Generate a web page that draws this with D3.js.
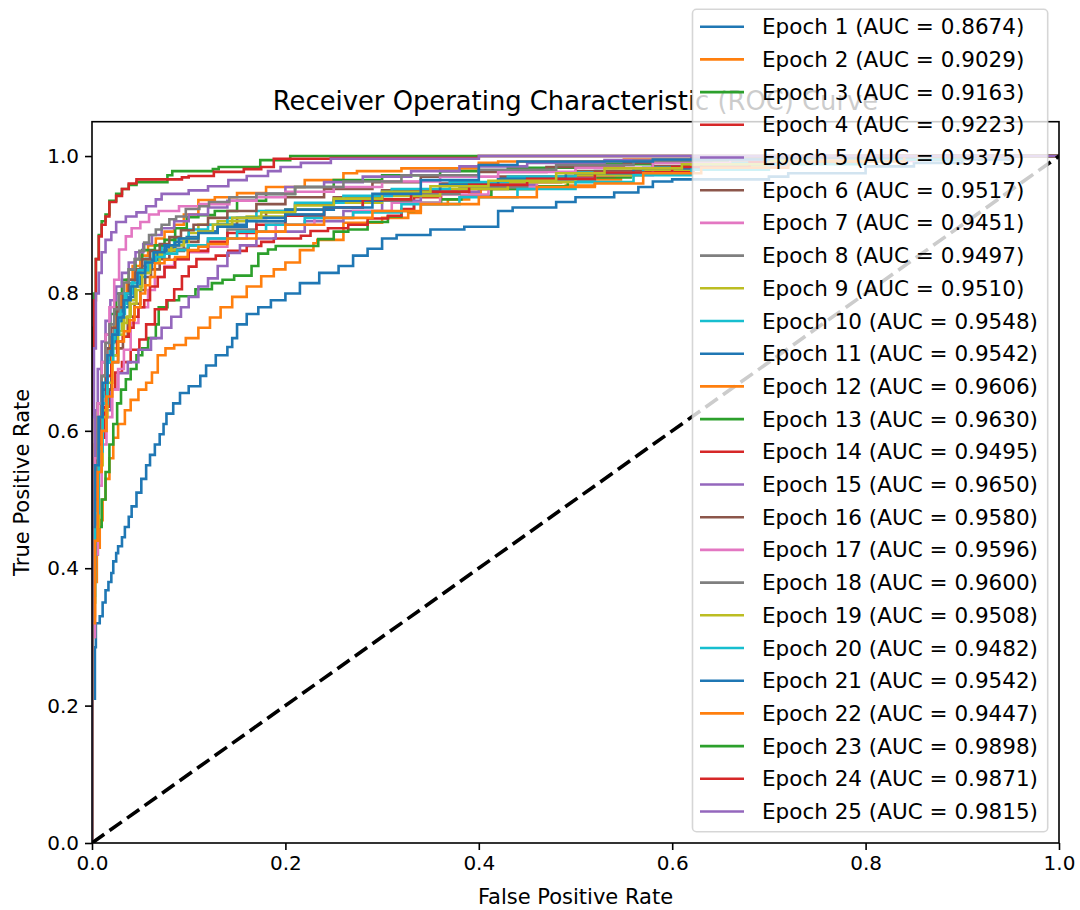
<!DOCTYPE html>
<html lang="en">
<head>
  <meta charset="UTF-8">
  <title>ROC curves per epoch</title>
  <script src="https://d3js.org/d3.v7.min.js"></script>
  <style>
    html, body { margin: 0; padding: 0; background: #fff; }
    #chart { display: block; }
    text { font-family: "DejaVu Sans", sans-serif; fill: #000; }
  </style>
</head>
<body>
  <svg id="chart" width="1080" height="910"></svg>

  <script>
    // ---- data ----
    const epochs = d3.range(1, 26).map(d => `Epoch ${d}`);
    const aucValues = [0.8674, 0.9029, 0.9163, 0.9223, 0.9375, 0.9517, 0.9451, 0.9497, 0.9510, 0.9548,
                       0.9542, 0.9606, 0.9630, 0.9495, 0.9650, 0.9580, 0.9596, 0.9600, 0.9508, 0.9482,
                       0.9542, 0.9447, 0.9898, 0.9871, 0.9815];
    const xTicks = [0, 0.2, 0.4, 0.6, 0.8, 1.0];
    const yTicks = [0, 0.2, 0.4, 0.6, 0.8, 1.0];

    // [false positive rate, true positive rate]
    const roc01 = [[0,0],[0,0.15],[0.003,0.21],[0.004,0.285],[0.008,0.32],[0.011,0.33],[0.014,0.35],[0.017,0.368],[0.02,0.38],[0.022,0.393],[0.025,0.41],[0.027,0.422],[0.031,0.432],[0.034,0.445],[0.038,0.46],[0.041,0.475],[0.046,0.49],[0.051,0.51],[0.056,0.53],[0.06,0.55],[0.065,0.565],[0.07,0.58],[0.074,0.595],[0.077,0.61],[0.084,0.625],[0.091,0.64],[0.1,0.655],[0.112,0.665],[0.118,0.68],[0.128,0.695],[0.14,0.71],[0.145,0.722],[0.15,0.735],[0.16,0.755],[0.172,0.77],[0.185,0.78],[0.2,0.79],[0.215,0.8],[0.235,0.815],[0.255,0.83],[0.27,0.84],[0.285,0.855],[0.3,0.865],[0.315,0.88],[0.35,0.885],[0.385,0.893],[0.42,0.897],[0.435,0.92],[0.48,0.925],[0.5,0.933],[0.54,0.94],[0.565,0.947],[0.58,0.955],[0.6,0.963],[0.7,0.966],[0.72,0.97],[0.8,0.975],[0.85,0.985],[0.9,0.99],[0.95,0.995],[1,1]];
    const roc02 = [[0,0],[0,0.2],[0.003,0.3],[0.005,0.38],[0.008,0.43],[0.011,0.47],[0.014,0.5],[0.018,0.53],[0.022,0.56],[0.027,0.59],[0.034,0.61],[0.04,0.63],[0.048,0.645],[0.056,0.66],[0.062,0.67],[0.068,0.685],[0.076,0.71],[0.085,0.72],[0.097,0.725],[0.11,0.735],[0.122,0.75],[0.133,0.765],[0.145,0.78],[0.16,0.795],[0.175,0.81],[0.188,0.825],[0.2,0.835],[0.215,0.845],[0.229,0.863],[0.233,0.873],[0.26,0.878],[0.3,0.903],[0.327,0.91],[0.34,0.917],[0.368,0.93],[0.39,0.937],[0.402,0.945],[0.457,0.952],[0.49,0.955],[0.52,0.957],[0.547,0.966],[0.56,0.971],[0.62,0.975],[0.7,0.985],[0.8,0.99],[0.9,0.995],[1,1]];
    const roc03 = [[0,0],[0,0.25],[0.003,0.35],[0.006,0.42],[0.01,0.46],[0.014,0.5],[0.018,0.54],[0.022,0.58],[0.026,0.61],[0.03,0.64],[0.035,0.66],[0.04,0.675],[0.046,0.69],[0.052,0.71],[0.058,0.72],[0.066,0.735],[0.069,0.755],[0.078,0.78],[0.09,0.79],[0.107,0.796],[0.124,0.806],[0.135,0.815],[0.147,0.82],[0.165,0.826],[0.172,0.84],[0.182,0.858],[0.19,0.864],[0.234,0.869],[0.25,0.879],[0.265,0.89],[0.285,0.893],[0.306,0.904],[0.32,0.912],[0.333,0.92],[0.361,0.932],[0.382,0.937],[0.413,0.942],[0.457,0.952],[0.492,0.956],[0.516,0.963],[0.557,0.969],[0.578,0.974],[0.62,0.98],[0.7,0.985],[0.8,0.99],[0.9,0.996],[1,1]];
    const roc04 = [[0,0],[0,0.3],[0.003,0.4],[0.006,0.48],[0.009,0.54],[0.013,0.59],[0.018,0.635],[0.024,0.66],[0.031,0.685],[0.04,0.7],[0.049,0.718],[0.056,0.733],[0.065,0.755],[0.077,0.777],[0.085,0.79],[0.093,0.806],[0.1,0.825],[0.108,0.839],[0.128,0.85],[0.141,0.855],[0.16,0.862],[0.175,0.869],[0.188,0.875],[0.216,0.88],[0.226,0.884],[0.244,0.891],[0.265,0.895],[0.285,0.9],[0.306,0.909],[0.32,0.913],[0.333,0.923],[0.361,0.94],[0.389,0.949],[0.413,0.952],[0.485,0.962],[0.506,0.969],[0.54,0.971],[0.581,0.977],[0.622,0.978],[0.7,0.985],[0.8,0.99],[0.9,0.995],[1,1]];
    const roc05 = [[0,0],[0,0.3],[0.003,0.4],[0.006,0.48],[0.01,0.55],[0.015,0.6],[0.02,0.63],[0.027,0.66],[0.037,0.684],[0.048,0.7],[0.061,0.718],[0.072,0.735],[0.082,0.75],[0.092,0.766],[0.1,0.78],[0.11,0.795],[0.12,0.81],[0.13,0.822],[0.14,0.84],[0.153,0.859],[0.17,0.87],[0.19,0.88],[0.22,0.89],[0.26,0.905],[0.3,0.92],[0.34,0.935],[0.4,0.948],[0.46,0.958],[0.52,0.968],[0.58,0.978],[0.64,0.985],[0.75,0.99],[0.85,0.995],[1,1]];
    const roc06 = [[0,0],[0,0.2],[0.003,0.38],[0.006,0.5],[0.01,0.58],[0.015,0.63],[0.02,0.66],[0.027,0.7],[0.032,0.72],[0.037,0.737],[0.044,0.766],[0.05,0.785],[0.055,0.805],[0.061,0.824],[0.07,0.835],[0.08,0.85],[0.095,0.862],[0.11,0.875],[0.13,0.89],[0.15,0.9],[0.18,0.91],[0.21,0.92],[0.25,0.93],[0.3,0.94],[0.36,0.95],[0.42,0.96],[0.5,0.97],[0.58,0.978],[0.64,0.985],[0.75,0.99],[0.85,0.995],[1,1]];
    const roc07 = [[0,0],[0,0.15],[0.003,0.3],[0.006,0.42],[0.01,0.52],[0.015,0.58],[0.021,0.62],[0.027,0.66],[0.033,0.69],[0.04,0.718],[0.048,0.757],[0.058,0.78],[0.065,0.805],[0.075,0.824],[0.085,0.84],[0.1,0.85],[0.12,0.86],[0.14,0.868],[0.16,0.88],[0.19,0.89],[0.23,0.9],[0.27,0.91],[0.31,0.92],[0.36,0.932],[0.41,0.944],[0.46,0.955],[0.52,0.964],[0.58,0.972],[0.63,0.98],[0.72,0.986],[0.85,0.993],[1,1]];
    const roc08 = [[0,0],[0,0.25],[0.003,0.4],[0.006,0.5],[0.01,0.57],[0.014,0.64],[0.018,0.7],[0.023,0.728],[0.028,0.76],[0.033,0.78],[0.038,0.8],[0.044,0.815],[0.05,0.83],[0.056,0.84],[0.065,0.85],[0.08,0.858],[0.1,0.865],[0.12,0.87],[0.14,0.88],[0.17,0.893],[0.2,0.905],[0.24,0.915],[0.28,0.925],[0.33,0.935],[0.38,0.945],[0.45,0.955],[0.52,0.965],[0.6,0.975],[0.66,0.983],[0.75,0.99],[0.86,0.995],[1,1]];
    const roc09 = [[0,0],[0,0.2],[0.003,0.35],[0.006,0.47],[0.01,0.56],[0.015,0.63],[0.02,0.68],[0.026,0.72],[0.031,0.745],[0.036,0.757],[0.04,0.766],[0.046,0.785],[0.051,0.805],[0.058,0.83],[0.065,0.849],[0.075,0.856],[0.086,0.863],[0.1,0.875],[0.11,0.888],[0.13,0.9],[0.16,0.905],[0.2,0.912],[0.25,0.922],[0.3,0.932],[0.36,0.942],[0.43,0.952],[0.5,0.962],[0.57,0.972],[0.62,0.98],[0.7,0.985],[0.82,0.992],[1,1]];
    const roc10 = [[0,0],[0,0.3],[0.003,0.42],[0.006,0.52],[0.01,0.6],[0.014,0.65],[0.019,0.7],[0.024,0.73],[0.03,0.76],[0.036,0.785],[0.042,0.8],[0.048,0.82],[0.055,0.835],[0.063,0.85],[0.072,0.86],[0.085,0.87],[0.1,0.88],[0.12,0.893],[0.14,0.9],[0.17,0.91],[0.21,0.92],[0.26,0.932],[0.31,0.942],[0.37,0.952],[0.43,0.962],[0.5,0.97],[0.57,0.976],[0.64,0.983],[0.72,0.989],[0.82,0.994],[1,1]];
    const roc11 = [[0,0],[0,0.28],[0.003,0.42],[0.006,0.52],[0.01,0.6],[0.015,0.66],[0.02,0.7],[0.026,0.73],[0.032,0.76],[0.038,0.78],[0.044,0.795],[0.05,0.81],[0.055,0.824],[0.062,0.838],[0.068,0.849],[0.077,0.858],[0.086,0.868],[0.098,0.875],[0.11,0.882],[0.13,0.89],[0.16,0.9],[0.2,0.91],[0.25,0.922],[0.3,0.935],[0.36,0.948],[0.42,0.958],[0.49,0.967],[0.56,0.975],[0.63,0.982],[0.72,0.988],[0.83,0.994],[1,1]];
    const roc12 = [[0,0],[0,0.35],[0.003,0.5],[0.006,0.58],[0.01,0.64],[0.014,0.68],[0.019,0.72],[0.024,0.75],[0.03,0.78],[0.036,0.8],[0.042,0.82],[0.05,0.84],[0.058,0.855],[0.066,0.87],[0.075,0.88],[0.085,0.89],[0.095,0.9],[0.11,0.915],[0.127,0.936],[0.15,0.94],[0.18,0.946],[0.22,0.955],[0.26,0.965],[0.274,0.975],[0.32,0.978],[0.4,0.982],[0.42,0.99],[0.55,0.992],[0.68,0.995],[0.8,0.998],[1,1]];
    const roc13 = [[0,0],[0,0.3],[0.003,0.46],[0.006,0.56],[0.01,0.64],[0.014,0.7],[0.019,0.74],[0.025,0.77],[0.031,0.8],[0.038,0.82],[0.045,0.835],[0.052,0.85],[0.065,0.863],[0.075,0.87],[0.086,0.878],[0.098,0.895],[0.11,0.911],[0.127,0.914],[0.15,0.92],[0.18,0.935],[0.21,0.945],[0.25,0.955],[0.3,0.965],[0.36,0.972],[0.43,0.978],[0.5,0.983],[0.58,0.988],[0.66,0.993],[0.78,0.997],[1,1]];
    const roc14 = [[0,0],[0,0.25],[0.003,0.4],[0.006,0.5],[0.01,0.58],[0.015,0.64],[0.02,0.68],[0.026,0.71],[0.032,0.73],[0.038,0.737],[0.043,0.75],[0.048,0.766],[0.054,0.78],[0.06,0.79],[0.068,0.81],[0.075,0.824],[0.086,0.838],[0.1,0.85],[0.12,0.862],[0.14,0.875],[0.17,0.888],[0.2,0.9],[0.24,0.913],[0.28,0.925],[0.33,0.937],[0.39,0.948],[0.45,0.958],[0.52,0.967],[0.6,0.976],[0.68,0.984],[0.8,0.991],[1,1]];
    const roc15 = [[0,0],[0,0.4],[0.003,0.55],[0.006,0.63],[0.01,0.69],[0.014,0.73],[0.019,0.76],[0.025,0.79],[0.031,0.81],[0.038,0.83],[0.045,0.845],[0.053,0.86],[0.062,0.872],[0.072,0.885],[0.085,0.895],[0.1,0.905],[0.12,0.915],[0.14,0.925],[0.17,0.935],[0.2,0.945],[0.24,0.955],[0.28,0.962],[0.33,0.97],[0.38,0.978],[0.45,0.985],[0.53,0.99],[0.62,0.994],[0.75,0.997],[1,1]];
    const roc16 = [[0,0],[0,0.28],[0.003,0.44],[0.006,0.54],[0.01,0.62],[0.015,0.68],[0.02,0.72],[0.026,0.75],[0.032,0.78],[0.038,0.8],[0.045,0.82],[0.052,0.835],[0.06,0.85],[0.07,0.862],[0.08,0.872],[0.092,0.882],[0.105,0.892],[0.12,0.9],[0.14,0.91],[0.17,0.92],[0.2,0.93],[0.24,0.94],[0.29,0.952],[0.34,0.962],[0.4,0.97],[0.47,0.977],[0.55,0.984],[0.63,0.99],[0.75,0.995],[1,1]];
    const roc17 = [[0,0],[0,0.3],[0.003,0.46],[0.006,0.56],[0.01,0.64],[0.014,0.7],[0.018,0.74],[0.023,0.78],[0.028,0.82],[0.035,0.864],[0.041,0.883],[0.05,0.895],[0.059,0.904],[0.069,0.915],[0.09,0.92],[0.111,0.927],[0.142,0.93],[0.17,0.935],[0.2,0.94],[0.25,0.948],[0.3,0.955],[0.36,0.963],[0.42,0.97],[0.5,0.977],[0.58,0.983],[0.66,0.99],[0.78,0.995],[1,1]];
    const roc18 = [[0,0],[0,0.3],[0.003,0.45],[0.006,0.55],[0.01,0.62],[0.014,0.68],[0.018,0.728],[0.023,0.755],[0.028,0.777],[0.033,0.8],[0.038,0.816],[0.044,0.835],[0.049,0.85],[0.054,0.862],[0.059,0.874],[0.066,0.885],[0.072,0.893],[0.08,0.9],[0.087,0.908],[0.097,0.912],[0.111,0.923],[0.121,0.927],[0.142,0.933],[0.17,0.94],[0.21,0.945],[0.26,0.955],[0.32,0.963],[0.4,0.972],[0.48,0.98],[0.56,0.987],[0.64,0.993],[0.75,0.996],[0.88,0.998],[1,1]];
    const roc19 = [[0,0],[0,0.18],[0.003,0.33],[0.007,0.46],[0.011,0.55],[0.016,0.62],[0.021,0.67],[0.027,0.71],[0.033,0.74],[0.039,0.765],[0.045,0.79],[0.052,0.81],[0.06,0.83],[0.07,0.845],[0.082,0.858],[0.095,0.87],[0.11,0.88],[0.125,0.89],[0.145,0.9],[0.175,0.91],[0.21,0.918],[0.25,0.928],[0.3,0.938],[0.35,0.948],[0.41,0.956],[0.48,0.964],[0.53,0.975],[0.61,0.982],[0.7,0.988],[0.8,0.993],[1,1]];
    const roc20 = [[0,0],[0,0.22],[0.003,0.36],[0.007,0.48],[0.011,0.57],[0.016,0.64],[0.022,0.7],[0.028,0.74],[0.034,0.77],[0.041,0.8],[0.048,0.815],[0.058,0.834],[0.066,0.845],[0.075,0.853],[0.088,0.858],[0.099,0.863],[0.12,0.87],[0.15,0.88],[0.18,0.89],[0.22,0.9],[0.27,0.91],[0.32,0.918],[0.38,0.93],[0.44,0.94],[0.5,0.952],[0.56,0.962],[0.62,0.972],[0.7,0.98],[0.8,0.988],[0.9,0.995],[1,1]];
    const roc21 = [[0,0],[0,0.32],[0.003,0.46],[0.007,0.55],[0.011,0.62],[0.016,0.67],[0.021,0.71],[0.027,0.74],[0.033,0.765],[0.04,0.79],[0.047,0.81],[0.055,0.83],[0.064,0.845],[0.075,0.86],[0.09,0.87],[0.11,0.88],[0.13,0.888],[0.16,0.897],[0.2,0.905],[0.24,0.915],[0.29,0.925],[0.34,0.945],[0.4,0.965],[0.44,0.987],[0.58,0.992],[0.7,0.995],[0.85,0.998],[1,1]];
    const roc22 = [[0,0],[0,0.18],[0.003,0.32],[0.006,0.44],[0.01,0.54],[0.015,0.6],[0.021,0.65],[0.027,0.7],[0.033,0.73],[0.039,0.745],[0.044,0.761],[0.05,0.78],[0.055,0.8],[0.06,0.812],[0.065,0.824],[0.075,0.844],[0.086,0.849],[0.099,0.853],[0.11,0.863],[0.12,0.868],[0.14,0.872],[0.17,0.88],[0.2,0.89],[0.24,0.9],[0.29,0.91],[0.34,0.92],[0.4,0.93],[0.46,0.94],[0.52,0.955],[0.57,0.96],[0.63,0.975],[0.72,0.983],[0.84,0.992],[1,1]];
    const roc23 = [[0,0],[0,0.6],[0.002,0.75],[0.004,0.8],[0.007,0.85],[0.01,0.885],[0.014,0.905],[0.018,0.915],[0.025,0.935],[0.031,0.945],[0.038,0.952],[0.046,0.958],[0.078,0.962],[0.083,0.972],[0.125,0.978],[0.131,0.981],[0.174,0.984],[0.205,0.994],[0.264,1],[1,1]];
    const roc24 = [[0,0],[0,0.55],[0.002,0.72],[0.004,0.79],[0.007,0.85],[0.01,0.883],[0.014,0.9],[0.018,0.912],[0.025,0.933],[0.031,0.942],[0.038,0.952],[0.046,0.96],[0.093,0.966],[0.1,0.969],[0.126,0.971],[0.157,0.977],[0.175,0.981],[0.188,0.984],[0.247,0.996],[0.4,0.997],[0.53,1],[1,1]];
    const roc25 = [[0,0],[0,0.45],[0.002,0.62],[0.004,0.72],[0.007,0.8],[0.01,0.83],[0.014,0.86],[0.02,0.878],[0.025,0.889],[0.035,0.904],[0.046,0.912],[0.056,0.918],[0.066,0.927],[0.072,0.937],[0.1,0.945],[0.12,0.95],[0.141,0.956],[0.16,0.965],[0.182,0.971],[0.195,0.978],[0.216,0.984],[0.247,0.99],[0.4,0.996],[0.45,1],[1,1]];

    const rocCurves = [roc01, roc02, roc03, roc04, roc05, roc06, roc07, roc08, roc09, roc10,
                       roc11, roc12, roc13, roc14, roc15, roc16, roc17, roc18, roc19, roc20,
                       roc21, roc22, roc23, roc24, roc25];
    const chanceLine = [[0, 0], [1, 1]];

    // matplotlib tab10 cycle
    const palette = ["#1f77b4", "#ff7f0e", "#2ca02c", "#d62728", "#9467bd",
                     "#8c564b", "#e377c2", "#7f7f7f", "#bcbd22", "#17becf"];

    // ---- layout ----
    const plot = { left: 92, right: 1059, top: 121.7, bottom: 843 };
    const svg = d3.select("#chart");

    const xScale = d3.scaleLinear().domain([0, 1]).range([plot.left, plot.right]);
    const yScale = d3.scaleLinear().domain([0, 1.05]).range([plot.bottom, plot.top]);

    svg.append("defs").append("clipPath").attr("id", "plotClip")
      .append("rect")
      .attr("x", plot.left).attr("y", plot.top)
      .attr("width", plot.right - plot.left).attr("height", plot.bottom - plot.top);

    const line = d3.line()
      .x(d => xScale(d[0]))
      .y(d => yScale(d[1]))
      .curve(d3.curveStepBefore);

    const curves = svg.append("g").attr("clip-path", "url(#plotClip)");

    curves.selectAll("path.roc")
      .data(rocCurves)
      .join("path")
      .attr("class", "roc")
      .attr("d", line)
      .attr("fill", "none")
      .attr("stroke", (d, i) => palette[i % 10])
      .attr("stroke-width", 2.6);

    curves.append("path")
      .datum(chanceLine)
      .attr("d", d3.line().x(d => xScale(d[0])).y(d => yScale(d[1])))
      .attr("fill", "none")
      .attr("stroke", "#000")
      .attr("stroke-width", 3.6)
      .attr("stroke-dasharray", "15,6.5");

    // axes
    const xAxis = svg.append("g")
      .attr("transform", `translate(0,${plot.bottom})`)
      .call(d3.axisBottom(xScale).tickValues(xTicks).tickFormat(d3.format(".1f"))
        .tickSize(7).tickSizeOuter(0).tickPadding(6));
    const yAxis = svg.append("g")
      .attr("transform", `translate(${plot.left},0)`)
      .call(d3.axisLeft(yScale).tickValues(yTicks).tickFormat(d3.format(".1f"))
        .tickSize(7).tickSizeOuter(0).tickPadding(6));

    [xAxis, yAxis].forEach(ax => {
      ax.select(".domain").remove();
      ax.selectAll(".tick line").attr("stroke", "#000").attr("stroke-width", 1.6);
      ax.selectAll(".tick text")
        .attr("font-family", "DejaVu Sans")
        .attr("font-size", 20)
        .attr("fill", "#000");
    });

    svg.append("rect")
      .attr("x", plot.left).attr("y", plot.top)
      .attr("width", plot.right - plot.left).attr("height", plot.bottom - plot.top)
      .attr("fill", "none")
      .attr("stroke", "#000")
      .attr("stroke-width", 1.6);

    svg.append("text")
      .attr("x", (plot.left + plot.right) / 2)
      .attr("y", 897)
      .attr("dy", "0.35em")
      .attr("text-anchor", "middle")
      .attr("font-size", 21)
      .text("False Positive Rate");

    svg.append("text")
      .attr("transform", `translate(22,${(plot.top + plot.bottom) / 2}) rotate(-90)`)
      .attr("dy", "0.35em")
      .attr("text-anchor", "middle")
      .attr("font-size", 21)
      .text("True Positive Rate");

    svg.append("text")
      .attr("x", (plot.left + plot.right) / 2)
      .attr("y", 101)
      .attr("dy", "0.35em")
      .attr("text-anchor", "middle")
      .attr("font-size", 25.8)
      .text("Receiver Operating Characteristic (ROC) Curve");

    // legend
    const legendBox = { x: 692.5, y: 9.3, w: 355.2, h: 822.4 };
    const rowStart = 26.7, rowStep = 32.7;

    const legend = svg.append("g");
    legend.append("rect")
      .attr("x", legendBox.x).attr("y", legendBox.y)
      .attr("width", legendBox.w).attr("height", legendBox.h)
      .attr("rx", 4).attr("ry", 4)
      .attr("fill", "#fff").attr("fill-opacity", 0.8)
      .attr("stroke", "#cccccc").attr("stroke-opacity", 0.8)
      .attr("stroke-width", 1.6);

    const rows = legend.selectAll("g.row")
      .data(epochs)
      .join("g")
      .attr("class", "row")
      .attr("transform", (d, i) => `translate(0,${rowStart + i * rowStep})`);

    rows.append("line")
      .attr("x1", 700).attr("x2", 744)
      .attr("stroke", (d, i) => palette[i % 10])
      .attr("stroke-width", 2.6);

    rows.append("text")
      .attr("x", 762)
      .attr("dy", "0.35em")
      .attr("font-size", 21.5)
      .text((d, i) => `${d} (AUC = ${aucValues[i].toFixed(4)})`);
  </script>
</body>
</html>
